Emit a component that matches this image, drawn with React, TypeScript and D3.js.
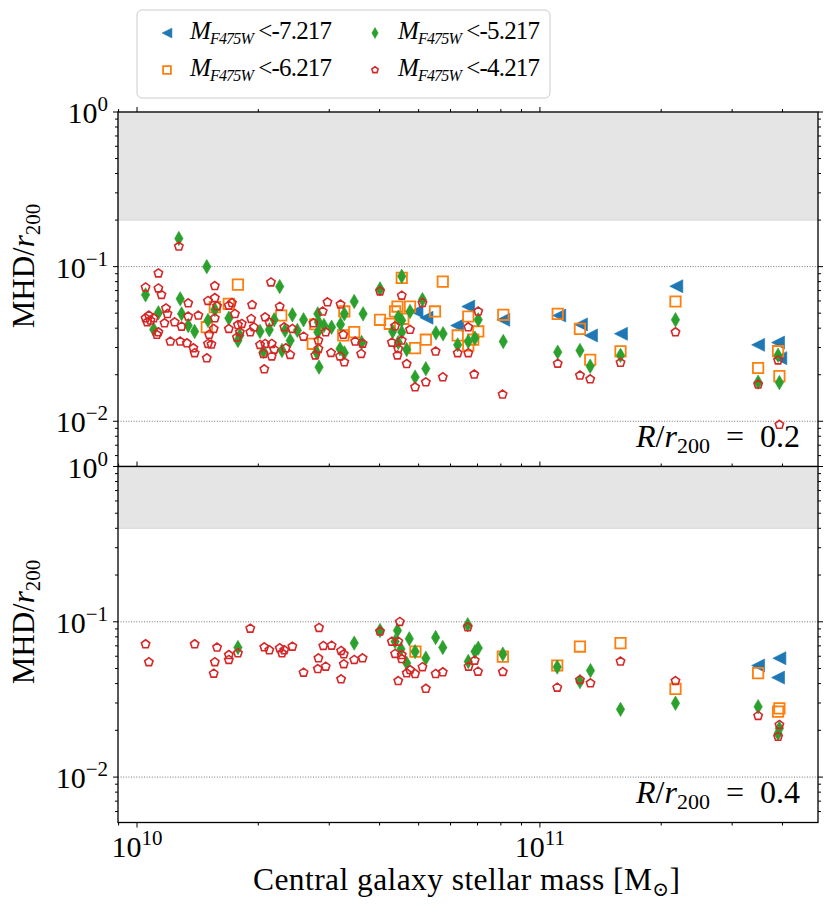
import React from 'react';
import * as d3 from 'd3';

// [central stellar mass in 1e10 Msun, MHD / r200]
type Pt = [number, number];

const cutLabels = ['-7.217', '-6.217', '-5.217', '-4.217'];
const radiusLabels = ['0.2', '0.4'];
const bandFrom = [0.2, 0.4];

// R / r200 = 0.2
const top7: Pt[] = [
  [4.94, 0.0513], [5.23, 0.0467], [6.64, 0.0552], [6.23, 0.0416], [8.11, 0.0453],
  [11.17, 0.0483], [12.64, 0.0423], [13.39, 0.0359], [15.89, 0.0368], [21.8, 0.0747],
  [34.8, 0.0312], [39.0, 0.0323], [39.5, 0.0256],
];
const top6: Pt[] = [
  [1.78, 0.0765], [2.28, 0.0483], [1.69, 0.0574], [1.56, 0.0547], [1.49, 0.0406],
  [2.73, 0.0317], [2.77, 0.0424], [4.54, 0.0846], [5.74, 0.08], [3.27, 0.0513],
  [3.46, 0.0377], [3.25, 0.0359], [4.01, 0.0453], [4.37, 0.0513], [4.43, 0.0552],
  [4.76, 0.0552], [4.58, 0.046], [4.24, 0.0427], [5.49, 0.0513], [5.21, 0.0337],
  [4.9, 0.0297], [6.25, 0.0359], [6.64, 0.0476], [7.03, 0.0381], [6.83, 0.0337],
  [8.11, 0.0488], [6.64, 0.0309], [11.07, 0.0495], [12.57, 0.0396], [13.33, 0.025],
  [15.85, 0.0283], [21.7, 0.0595], [34.8, 0.0221], [39.0, 0.0284], [39.3, 0.0196],
];
const top5: Pt[] = [
  [1.27, 0.152], [1.49, 0.1], [1.05, 0.0657], [1.28, 0.0619], [2.26, 0.0743],
  [1.13, 0.0503], [1.29, 0.0495], [1.1, 0.0392], [1.34, 0.0416], [1.39, 0.0381],
  [1.5, 0.0449], [1.56, 0.0528], [1.69, 0.0464], [1.8, 0.0359], [1.78, 0.0333],
  [2.02, 0.0381], [2.13, 0.0391], [2.19, 0.0453], [2.33, 0.0387], [2.43, 0.0488],
  [2.5, 0.0387], [2.59, 0.0453], [2.4, 0.0333], [2.29, 0.0287], [2.06, 0.0283],
  [2.81, 0.0495], [2.81, 0.0377], [2.79, 0.028], [2.83, 0.0224], [2.82, 0.0437],
  [4.54, 0.0866], [4.01, 0.0718], [5.11, 0.0612], [3.46, 0.0595], [3.64, 0.0495],
  [3.27, 0.0495], [2.91, 0.0416], [3.04, 0.0406], [3.2, 0.0423], [4.76, 0.0513],
  [4.45, 0.0471], [4.54, 0.0449], [4.31, 0.0381], [4.54, 0.0377], [5.52, 0.0373],
  [5.75, 0.0368], [4.67, 0.0291], [4.45, 0.0323], [6.64, 0.0328], [6.9, 0.0345],
  [7.03, 0.0453], [6.25, 0.0312], [8.11, 0.0328], [3.19, 0.0294], [3.27, 0.0277],
  [3.61, 0.0323], [5.21, 0.0219], [4.9, 0.0193], [11.07, 0.028], [12.57, 0.0287],
  [13.33, 0.0227], [15.85, 0.0267], [21.7, 0.0453], [34.8, 0.0179], [39.0, 0.0267],
  [39.3, 0.0178],
];
const top4: Pt[] = [
  [1.27, 0.135], [1.13, 0.0906], [1.05, 0.0735], [1.13, 0.0724], [1.15, 0.0657],
  [1.56, 0.075], [2.15, 0.0792], [1.34, 0.058], [1.5, 0.0601], [1.56, 0.0628],
  [1.58, 0.0555], [1.72, 0.0583], [1.69, 0.056], [1.93, 0.0566], [2.26, 0.0552],
  [1.75, 0.0495], [1.18, 0.0538], [1.19, 0.0495], [1.05, 0.0464], [1.07, 0.0483],
  [1.08, 0.0449], [1.1, 0.0464], [1.06, 0.0437], [1.17, 0.0431], [1.24, 0.0437],
  [1.29, 0.041], [1.34, 0.0476], [1.42, 0.0483], [1.56, 0.0464], [1.78, 0.042],
  [1.82, 0.0427], [1.69, 0.0396], [1.92, 0.046], [1.95, 0.0406], [2.08, 0.0471],
  [2.13, 0.0437], [2.32, 0.0406], [2.43, 0.0396], [2.59, 0.0353], [2.74, 0.0431],
  [1.13, 0.0377], [1.12, 0.0363], [1.51, 0.0363], [1.55, 0.0396], [1.8, 0.0377],
  [1.77, 0.0349], [1.91, 0.0377], [1.21, 0.0328], [1.28, 0.0328], [1.33, 0.032],
  [1.38, 0.0297], [1.39, 0.0276], [1.5, 0.0317], [1.53, 0.0314], [1.49, 0.0256],
  [2.02, 0.0312], [2.08, 0.0317], [2.16, 0.0317], [2.19, 0.0291], [2.06, 0.0273],
  [2.16, 0.0263], [2.34, 0.0297], [2.4, 0.0269], [2.07, 0.0217], [2.82, 0.0333],
  [2.82, 0.0294], [2.77, 0.0267], [4.01, 0.0693], [4.54, 0.065], [5.11, 0.0583],
  [2.97, 0.0589], [3.2, 0.0569], [2.89, 0.0513], [2.94, 0.0377], [3.25, 0.0363],
  [3.03, 0.0277], [3.19, 0.0263], [3.27, 0.0241], [3.48, 0.0328], [3.6, 0.0273],
  [3.63, 0.0318], [4.37, 0.0412], [4.76, 0.0391], [4.29, 0.0323], [4.54, 0.0333],
  [4.45, 0.0294], [4.43, 0.0267], [4.67, 0.0235], [5.51, 0.0283], [6.25, 0.0276],
  [6.64, 0.0276], [7.03, 0.0513], [6.64, 0.0406], [6.87, 0.0201], [5.74, 0.0193],
  [5.21, 0.0179], [4.9, 0.0166], [8.08, 0.0149], [11.07, 0.0236], [12.57, 0.0198],
  [13.33, 0.0187], [15.85, 0.0239], [21.7, 0.0377], [34.8, 0.0173], [39.0, 0.0248],
  [39.3, 0.0095],
];

// R / r200 = 0.4
const bot7: Pt[] = [[34.8, 0.0523], [39.3, 0.0583], [39.0, 0.0437]];
const bot6: Pt[] = [
  [4.91, 0.0643], [8.09, 0.0597], [11.04, 0.0523], [12.57, 0.0693], [15.85, 0.0729],
  [21.7, 0.037], [34.8, 0.0467], [39.3, 0.0277], [39.0, 0.0264],
];
const bot5: Pt[] = [
  [1.78, 0.0683], [3.46, 0.0729], [4.01, 0.0879], [4.43, 0.0879], [4.37, 0.0746],
  [4.74, 0.0777], [4.52, 0.0667], [4.9, 0.0643], [4.67, 0.0542], [5.21, 0.0583],
  [5.51, 0.0792], [5.74, 0.0683], [6.62, 0.0957], [6.64, 0.0555], [6.9, 0.0643],
  [7.03, 0.0677], [8.09, 0.0619], [11.04, 0.0511], [12.57, 0.0412], [13.35, 0.0485],
  [15.85, 0.0273], [21.7, 0.0299], [34.8, 0.0284], [39.3, 0.0206], [39.0, 0.0191],
];
const bot4: Pt[] = [
  [1.05, 0.0718], [1.07, 0.055], [1.39, 0.0718], [1.58, 0.0683], [1.56, 0.055],
  [1.55, 0.0464], [1.69, 0.0612], [1.69, 0.0569], [1.78, 0.0628], [1.91, 0.0905],
  [2.07, 0.0686], [2.13, 0.0657], [2.26, 0.0677], [2.29, 0.0628], [2.32, 0.0657],
  [2.43, 0.0693], [2.59, 0.0471], [2.83, 0.0915], [2.9, 0.07], [3.04, 0.0703],
  [2.82, 0.0583], [2.81, 0.0497], [2.94, 0.0515], [3.21, 0.065], [3.26, 0.0619],
  [3.26, 0.0534], [3.21, 0.0427], [3.46, 0.0569], [3.63, 0.0583], [4.01, 0.0866],
  [4.49, 0.1], [4.29, 0.0746], [4.45, 0.0746], [4.37, 0.0622], [4.54, 0.0612],
  [4.54, 0.0577], [4.76, 0.049], [4.67, 0.0467], [4.9, 0.0462], [4.45, 0.0416],
  [5.11, 0.0511], [5.21, 0.0371], [5.51, 0.0462], [5.74, 0.0474], [6.62, 0.0924],
  [6.65, 0.0515], [6.89, 0.0563], [7.02, 0.0478], [8.09, 0.0476], [11.04, 0.0377],
  [12.57, 0.0423], [13.35, 0.0402], [15.85, 0.0555], [21.7, 0.0416], [34.8, 0.0248],
  [39.3, 0.0217], [39.0, 0.0182],
];

const panelData = [
  [top7, top6, top5, top4],
  [bot7, bot6, bot5, bot4],
];

const FONT = '"Liberation Serif", "DejaVu Serif", serif';
const W = 831;
const H = 913;
const left = 118;
const right = 818;
const panels = [
  { top: 112, bottom: 466.5 },
  { top: 466.5, bottom: 822.5 },
];

const styles = [
  { color: '#1f77b4', shape: 'tri', filled: true },
  { color: '#ff7f0e', shape: 'square', filled: false },
  { color: '#2ca02c', shape: 'diamond', filled: true },
  { color: '#d62728', shape: 'pent', filled: false },
];

const markerPath = (shape: string, k = 1) => {
  if (shape === 'tri') {
    const s = 6.5 * k;
    return `M${-s},0L${s},${-s}L${s},${s}Z`;
  }
  if (shape === 'square') {
    const a = 5.2 * k;
    return `M${-a},${-a}H${a}V${a}H${-a}Z`;
  }
  if (shape === 'diamond') {
    const w = 4.2 * k;
    const h = 7.2 * k;
    return `M0,${-h}L${w},0L0,${h}L${-w},0Z`;
  }
  const r = 4.4 * k;
  const pts = d3.range(5).map((i) => {
    const a = -Math.PI / 2 + (i * 2 * Math.PI) / 5;
    return [r * Math.cos(a), r * Math.sin(a)];
  });
  return 'M' + pts.map((p) => p.join(',')).join('L') + 'Z';
};

const Marker = ({ st, x, y, k = 1 }) => (
  <path
    d={markerPath(st.shape, k)}
    transform={`translate(${x},${y})`}
    fill={st.filled ? st.color : 'none'}
    stroke={st.color}
    strokeWidth={st.shape === 'square' ? 1.8 : st.shape === 'pent' ? 1.6 : 0.6}
  />
);

const x = d3.scaleLog().domain([8.97e9, 4.9e11]).range([left, right]);
const xTicks = x.ticks();
const isMajor = (v: number) => Math.abs(Math.log10(v) - Math.round(Math.log10(v))) < 1e-6;

const Panel = ({ idx }) => {
  const { top, bottom } = panels[idx];
  const y = d3.scaleLog().domain([0.0051, 1]).range([bottom, top]);
  const yTicks = y.ticks();
  const data = panelData[idx];
  return (
    <g>
      <rect
        x={left}
        y={y(1)}
        width={right - left}
        height={y(bandFrom[idx]) - y(1)}
        fill="#e5e5e5"
        stroke="#d6d6d6"
        strokeWidth={1}
      />
      {[0.1, 0.01].map((g) => (
        <line
          key={g}
          x1={left}
          x2={right}
          y1={y(g)}
          y2={y(g)}
          stroke="#666"
          strokeWidth={0.9}
          strokeDasharray="1,1.6"
        />
      ))}
      {data.map((pts, si) => (
        <g key={si}>
          {pts.map((p, i) => (
            <Marker key={i} st={styles[si]} x={x(p[0] * 1e10)} y={y(p[1])} />
          ))}
        </g>
      ))}
      <rect x={left} y={top} width={right - left} height={bottom - top} fill="none" stroke="#000" strokeWidth={1.3} />
      {yTicks.map((t, i) => {
        const L = isMajor(t) ? 5 : 3;
        return (
          <g key={i}>
            <line x1={left - L} x2={left} y1={y(t)} y2={y(t)} stroke="#000" strokeWidth={1} />
            <line x1={right} x2={right + L} y1={y(t)} y2={y(t)} stroke="#000" strokeWidth={1} />
          </g>
        );
      })}
      {xTicks.map((t, i) => {
        const L = isMajor(t) ? 5 : 3;
        return (
          <g key={i}>
            <line x1={x(t)} x2={x(t)} y1={top - L} y2={top} stroke="#000" strokeWidth={1} />
            <line x1={x(t)} x2={x(t)} y1={bottom} y2={bottom + L} stroke="#000" strokeWidth={1} />
          </g>
        );
      })}
      {yTicks.filter(isMajor).map((t, i) => (
        <text key={i} x={108} y={y(t) + 11} textAnchor="end" fontSize={30} fontFamily={FONT}>
          10
          <tspan dy={-12} fontSize={21}>
            {Math.round(Math.log10(t)) === 0 ? '0' : '\u2212' + -Math.round(Math.log10(t))}
          </tspan>
        </text>
      ))}
      <text x={800} y={bottom - 20} textAnchor="end" fontSize={32} fontFamily={FONT}>
        <tspan fontStyle="italic">R</tspan>/<tspan fontStyle="italic">r</tspan>
        <tspan dy={6} fontSize={22}>200</tspan>
        <tspan dy={-6}>{'\u2002=\u2002' + radiusLabels[idx]}</tspan>
      </text>
      <text
        transform={`translate(34,${idx === 0 ? 266 : 622}) rotate(-90)`}
        textAnchor="middle"
        fontSize={31}
        fontFamily={FONT}
      >
        MHD/<tspan fontStyle="italic">r</tspan>
        <tspan dy={6} fontSize={21}>200</tspan>
      </text>
    </g>
  );
};

export default function App() {
  return (
    <svg
      width={W}
      height={H}
      viewBox={`0 0 ${W} ${H}`}
      style={{ position: 'absolute', left: 0, top: 0, background: '#fff' }}
    >
      <rect width={W} height={H} fill="#fff" />
      <Panel idx={0} />
      <Panel idx={1} />
      {xTicks.filter(isMajor).map((t, i) => (
        <text key={i} x={x(t)} y={857} textAnchor="middle" fontSize={30} fontFamily={FONT}>
          10
          <tspan dy={-12} fontSize={21}>{Math.round(Math.log10(t))}</tspan>
        </text>
      ))}
      <text x={253} y={890} fontSize={31.5} fontFamily={FONT} textLength={427} lengthAdjust="spacing">
        Central galaxy stellar mass [M<tspan dy={6} fontSize={20}>⊙</tspan>
        <tspan dy={-6}>]</tspan>
      </text>
      <rect x={137} y={10} width={413} height={88} rx={5} fill="#fff" stroke="#cccccc" strokeWidth={1} />
      {cutLabels.map((lab, i) => {
        const col = Math.floor(i / 2);
        const row = i % 2;
        const mx = col === 0 ? 167 : 375;
        const my = row === 0 ? 33 : 70;
        return (
          <g key={i}>
            <Marker st={styles[i]} x={mx} y={my} k={0.75} />
            <text x={mx + 23} y={my + 6} fontSize={25} fontFamily={FONT} textLength={142} lengthAdjust="spacing">
              <tspan fontStyle="italic">M</tspan>
              <tspan dy={5} fontSize={16} fontStyle="italic">F475W</tspan>
              <tspan dy={-5}> &lt;{lab}</tspan>
            </text>
          </g>
        );
      })}
    </svg>
  );
}
